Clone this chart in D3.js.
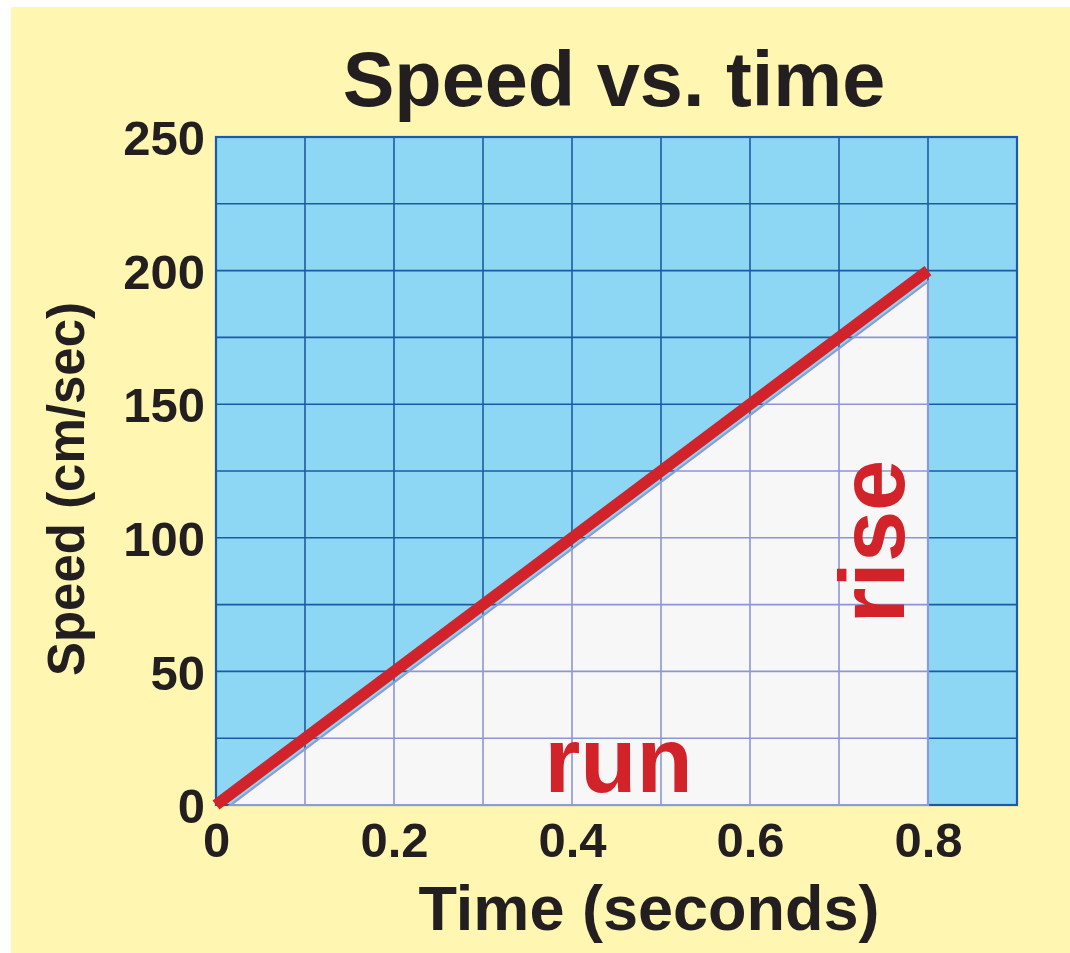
<!DOCTYPE html>
<html>
<head>
<meta charset="utf-8">
<script src="https://cdn.jsdelivr.net/npm/d3@7"></script>
<style>
  html, body { margin: 0; padding: 0; background: #ffffff; }
  svg { display: block; }
  text { font-family: "Liberation Sans", Arial, Helvetica, sans-serif; font-weight: bold; fill: #231f20; }
</style>
</head>
<body>
<div id="chart"></div>
<script>
// data
var times = [0, 0.8];            // seconds
var speeds = [0, 200];           // cm/sec
var xTicks = [0, 0.2, 0.4, 0.6, 0.8];
var yTicks = [0, 50, 100, 150, 200, 250];
var xGrid = [0, 0.1, 0.2, 0.3, 0.4, 0.5, 0.6, 0.7, 0.8, 0.9];
var yGrid = [0, 25, 50, 75, 100, 125, 150, 175, 200, 225, 250];

var W = 1070, H = 953,
    margin = {top: 137, right: 53, bottom: 148, left: 216},
    plotW = W - margin.left - margin.right,
    plotH = H - margin.top - margin.bottom,
    triInset = 11; // the shaded triangle sits a little under the red line

var svg = d3.select("#chart").append("svg")
    .attr("width", W)
    .attr("height", H);

// yellow card
svg.append("rect")
    .attr("x", 11).attr("y", 7)
    .attr("width", W - 11).attr("height", H - 7)
    .attr("fill", "#fff7b1");

var x = d3.scaleLinear().domain([0, 0.9]).range([0, plotW]);
var y = d3.scaleLinear().domain([0, 250]).range([plotH, 0]);

var g = svg.append("g")
    .attr("transform", "translate(" + margin.left + "," + margin.top + ")");

// blue plot area + dark grid
g.append("rect")
    .attr("width", plotW).attr("height", plotH)
    .attr("fill", "#8dd7f5");

function grid(sel, color, width) {
    sel.selectAll("line.v").data(xGrid).enter().append("line")
        .attr("class", "v")
        .attr("x1", function(d) { return x(d); }).attr("x2", function(d) { return x(d); })
        .attr("y1", 0).attr("y2", plotH)
        .attr("stroke", color).attr("stroke-width", width);
    sel.selectAll("line.h").data(yGrid).enter().append("line")
        .attr("class", "h")
        .attr("y1", function(d) { return y(d); }).attr("y2", function(d) { return y(d); })
        .attr("x1", 0).attr("x2", plotW)
        .attr("stroke", color).attr("stroke-width", width);
}
grid(g.append("g"), "#1d5aa5", 1.6);

g.append("rect")
    .attr("width", plotW).attr("height", plotH)
    .attr("fill", "none")
    .attr("stroke", "#1d5aa5").attr("stroke-width", 2.2);

// the rise/run triangle
var tEnd = times[times.length - 1], sEnd = speeds[speeds.length - 1];
var tri = [
    [x(times[0]) + triInset / 0.75, y(speeds[0])],
    [x(tEnd), y(speeds[0])],
    [x(tEnd), y(sEnd) + triInset]
];

g.append("clipPath").attr("id", "triClip")
    .append("polygon").attr("points", tri.join(" "));

g.append("polygon")
    .attr("points", tri.join(" "))
    .attr("fill", "#f7f7f7");

grid(g.append("g").attr("clip-path", "url(#triClip)"), "#8d96d2", 1.6);

g.append("polygon")
    .attr("points", tri.join(" "))
    .attr("fill", "none")
    .attr("stroke", "#8d9bd6").attr("stroke-width", 2.2);

// red speed line
var line = d3.line()
    .x(function(d) { return x(d[0]); })
    .y(function(d) { return y(d[1]); });

g.append("path")
    .datum(d3.zip(times, speeds))
    .attr("d", line)
    .attr("fill", "none")
    .attr("stroke", "#d2232a")
    .attr("stroke-width", 11.5)
    .attr("stroke-linecap", "butt");

// axes (labels only)
var xAxis = g.append("g")
    .attr("transform", "translate(0," + plotH + ")")
    .call(d3.axisBottom(x).tickValues(xTicks).tickSize(0).tickPadding(17)
        .tickFormat(function(d) { return d === 0 ? "0" : d3.format(".1f")(d); }));
xAxis.select(".domain").remove();
xAxis.selectAll("text")
    .attr("font-family", null).attr("fill", null)
    .style("font-size", "49px")
    .attr("dy", "0.71em");

var yAxis = g.append("g")
    .call(d3.axisLeft(y).tickValues(yTicks).tickSize(0).tickPadding(11));
yAxis.select(".domain").remove();
yAxis.selectAll("text")
    .attr("font-family", null).attr("fill", null)
    .style("font-size", "49px")
    .attr("dy", "0.36em");

// titles
svg.append("text")
    .attr("x", 614).attr("y", 106)
    .attr("text-anchor", "middle")
    .style("font-size", "77.5px")
    .text("Speed vs. time");

svg.append("text")
    .attr("x", 649).attr("y", 930)
    .attr("text-anchor", "middle")
    .style("font-size", "63px")
    .text("Time (seconds)");

svg.append("text")
    .attr("transform", "translate(84,489) rotate(-90)")
    .attr("text-anchor", "middle")
    .style("font-size", "51px")
    .text("Speed (cm/sec)");

// annotations
g.append("text")
    .attr("x", x(0.45) + 2).attr("y", plotH - 13)
    .attr("text-anchor", "middle")
    .style("font-size", "92px")
    .style("fill", "#d2232a")
    .text("run");

g.append("text")
    .attr("transform", "translate(" + (x(tEnd) - 24) + "," + (y(sEnd) + 271) + ") rotate(-90)")
    .attr("text-anchor", "middle")
    .style("font-size", "92px")
    .style("fill", "#d2232a")
    .text("rise");
</script>
</body>
</html>
